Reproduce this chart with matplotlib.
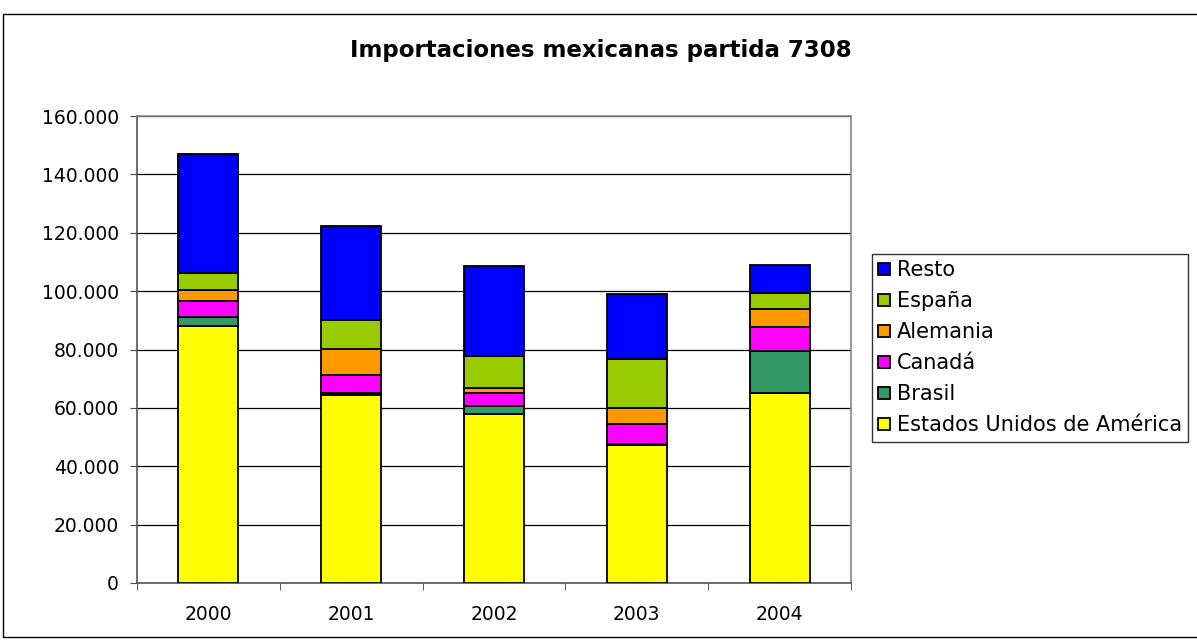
import matplotlib
matplotlib.use("Agg")
import matplotlib.pyplot as plt
from matplotlib.patches import Rectangle
from matplotlib.ticker import FuncFormatter, FixedLocator
import numpy as np

plt.rcParams['font.family'] = ['DejaVu Sans']

years = ["2000", "2001", "2002", "2003", "2004"]
series_names = ["Estados Unidos de América", "Brasil", "Canadá", "Alemania", "España", "Resto"]
usa      = [88.0, 64.4, 58.0, 47.4, 65.0]
brasil   = [3.2, 0.8, 2.7, 0.2, 14.6]
canada   = [5.4, 6.2, 4.3, 7.0, 8.0]
alemania = [3.7, 8.7, 1.7, 5.2, 6.3]
espana   = [6.0, 10.0, 11.1, 17.1, 5.3]
resto    = [40.7, 32.2, 30.8, 22.2, 9.7]
colors = ["#FFFF00", "#339966", "#FF00FF", "#FF9900", "#99CC00", "#0000FF"]

data = [usa, brasil, canada, alemania, espana, resto]

fig = plt.figure(figsize=(11.97, 6.41), dpi=100)
# chart area border
fig.patches.append(Rectangle((3/1197, 4/641), 1.2, 623/641, transform=fig.transFigure,
                             fill=False, edgecolor="black", linewidth=1.0))

ax = fig.add_axes([137/1197, 1-583/641, (851-137)/1197, (583-116)/641])
x = np.arange(len(years))
bottom = np.zeros(len(years))
handles = []
for vals, name, c in zip(data, series_names, colors):
    v = np.array(vals) * 1000
    b = ax.bar(x, v, width=0.42, bottom=bottom, color=c, edgecolor="black",
               linewidth=1.3, label=name, zorder=3)
    handles.append(b)
    bottom += v

ax.set_xlim(-0.5, 4.5)
ax.set_ylim(0, 160000)
ax.yaxis.set_major_locator(FixedLocator(np.arange(0, 160001, 20000)))
ax.yaxis.set_major_formatter(FuncFormatter(lambda v, p: f"{int(v):,}".replace(",", ".")))
ax.grid(axis="y", color="black", linewidth=0.9, zorder=0)
ax.set_xticks(x)
ax.set_xticklabels(years)
ax.set_xticks(np.arange(-0.5, 4.6, 1), minor=True)
ax.tick_params(axis="x", which="major", length=0, pad=16, labelsize=13.5)
ax.tick_params(axis="x", which="minor", length=5, direction="out", color="#444444")
ax.tick_params(axis="y", length=5, direction="out", labelsize=13.5, pad=8, color="#444444")
for s in ["top", "right"]:
    ax.spines[s].set_color("#888888")
    ax.spines[s].set_linewidth(1.2)
for s in ["left", "bottom"]:
    ax.spines[s].set_color("#555555")
    ax.spines[s].set_linewidth(1.2)

fig.text(0.502, 1-50/641, "Importaciones mexicanas partida 7308", ha="center", va="center",
         fontsize=16.5, fontweight="bold")

leg = fig.legend(handles[::-1], series_names[::-1], loc="upper left",
                 bbox_to_anchor=(872/1197, 1-254/641), fontsize=15, frameon=True,
                 fancybox=False, edgecolor="black", handlelength=0.55, handleheight=0.55,
                 handletextpad=0.35, labelspacing=0.53, borderaxespad=0, borderpad=0.3)
leg.get_frame().set_linewidth(1.0)

fig.savefig("out.png", dpi=100)
